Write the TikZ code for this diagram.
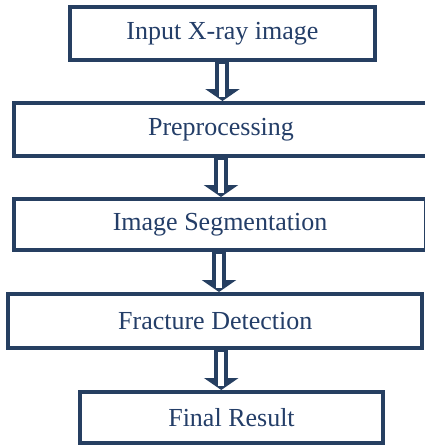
\documentclass[tikz,border=0pt]{standalone}
\usepackage{fontspec}
\setmainfont{Liberation Serif}
\usetikzlibrary{arrows.meta}

\definecolor{navy}{RGB}{38,63,97}
\definecolor{navytext}{RGB}{36,62,104}

\begin{document}
\begin{tikzpicture}[
  x=0.5pt,y=-0.5pt,
  font=\fontsize{13}{15}\selectfont,
  stepbox/.style={draw=navy,line width=2pt,fill=white,text=navytext,inner sep=0pt,align=center},
  dar/.style={draw=navy,line width=7pt,-{Triangle[width=17pt,length=6pt]},
    postaction={draw=white,line width=3pt,-,shorten <=1pt,shorten >=2pt}},
]
\useasboundingbox (0,0) rectangle (425,446);
\clip (0,0) rectangle (425,446);
\fill[white] (0,0) rectangle (425,446);
\node[stepbox,minimum width=152.5pt,minimum height=26.5pt] (in) at (222.5,33.5) {Input X-ray image};
\node[stepbox,minimum width=207pt,minimum height=26.5pt] (pre) at (221,129.5) {Preprocessing};
\node[stepbox,minimum width=206pt,minimum height=25.5pt] (seg) at (220,224.5) {Image Segmentation};
\node[stepbox,minimum width=207.25pt,minimum height=27pt] (det) at (215.25,321) {Fracture Detection};
\node[stepbox,minimum width=151.5pt,minimum height=25.5pt] (res) at (231.5,417.5) {Final Result};
% flow
\draw[dar] (in.south) -- (in.south |- pre.north);
\draw[dar] (pre.south) -- (pre.south |- seg.north);
\draw[dar] ([xshift=-0.5pt]seg.south) -- ([xshift=-0.5pt]seg.south |- det.north);
\draw[dar] ([xshift=3pt]det.south) -- ([xshift=3pt]det.south |- res.north);
\end{tikzpicture}
\end{document}
